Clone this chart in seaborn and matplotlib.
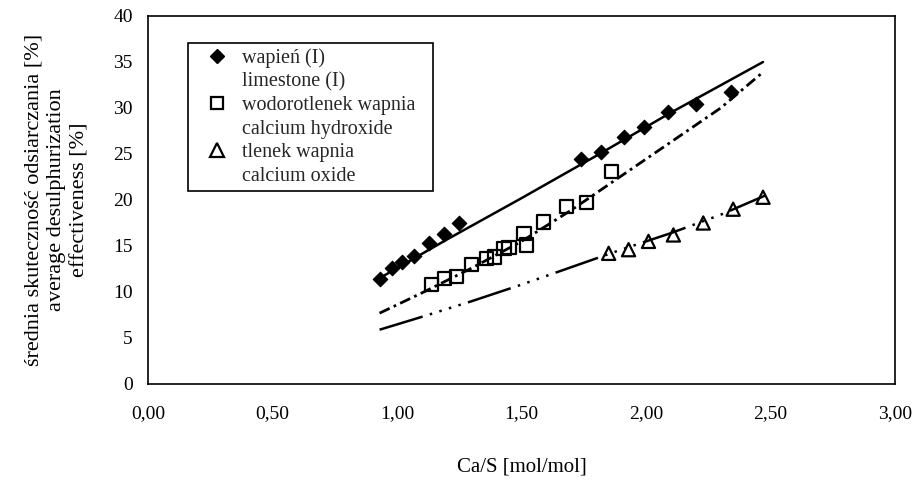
import numpy as np
import pandas as pd
import matplotlib
matplotlib.use("Agg")
import matplotlib.pyplot as plt
import seaborn as sns
from matplotlib.lines import Line2D

# ---- data ----
limestone_x = [0.93, 0.98, 1.02, 1.07, 1.13, 1.19, 1.25, 1.74, 1.82, 1.91, 1.99, 2.09, 2.20, 2.34]
limestone_y = [11.4, 12.6, 13.3, 13.9, 15.3, 16.3, 17.5, 24.5, 25.2, 26.9, 27.9, 29.6, 30.4, 31.7]
hydroxide_x = [1.14, 1.19, 1.24, 1.30, 1.36, 1.39, 1.43, 1.45, 1.51, 1.52, 1.59, 1.68, 1.76, 1.86]
hydroxide_y = [10.8, 11.5, 11.7, 13.0, 13.6, 13.8, 14.7, 14.8, 16.4, 15.1, 17.6, 19.3, 19.7, 23.1]
oxide_x = [1.85, 1.93, 2.01, 2.11, 2.23, 2.35, 2.47]
oxide_y = [14.2, 14.6, 15.5, 16.2, 17.5, 19.0, 20.3]

# trend curves
lime_fit_x = [0.93, 1.2, 1.5, 1.8, 2.1, 2.47]
lime_fit_y = [11.5, 15.7, 20.2, 24.8, 29.5, 35.0]
hydro_fit_x = [0.93, 1.1, 1.3, 1.5, 1.7, 1.9, 2.1, 2.3, 2.47]
hydro_fit_y = [7.7, 9.9, 12.6, 15.5, 18.9, 22.6, 26.3, 30.0, 33.9]
oxide_fit_x = [0.93, 1.1, 1.3, 1.5, 1.7, 1.9, 2.1, 2.3, 2.48]
oxide_fit_y = [5.9, 7.3, 9.0, 10.8, 12.7, 14.6, 16.4, 18.4, 20.5]

x_ticks = [0.0, 0.5, 1.0, 1.5, 2.0, 2.5, 3.0]
x_tick_labels = ["0,00", "0,50", "1,00", "1,50", "2,00", "2,50", "3,00"]
y_ticks = [0, 5, 10, 15, 20, 25, 30, 35, 40]

legend_lines = [("wapień (I)", "limestone (I)"),
                ("wodorotlenek wapnia", "calcium hydroxide"),
                ("tlenek wapnia", "calcium oxide")]

sns.set_theme(style="white")
plt.rcParams["font.family"] = ["Liberation Serif", "DejaVu Serif"]

fig = plt.figure(figsize=(9.17, 4.82), dpi=100)
ax = fig.add_axes([148 / 917, 1 - 384 / 482, (895 - 148) / 917, (384 - 16) / 482])

# trend lines
sns.lineplot(x=lime_fit_x, y=lime_fit_y, ax=ax, color="black", lw=1.8,
             estimator=None, sort=False)
sns.lineplot(x=hydro_fit_x, y=hydro_fit_y, ax=ax, color="black", lw=2.0,
             estimator=None, sort=False, linestyle=(0, (4, 1.6, 1, 1.6)))
sns.lineplot(x=oxide_fit_x, y=oxide_fit_y, ax=ax, color="black", lw=1.8,
             estimator=None, sort=False,
             linestyle=(0, (18, 3, 1, 3, 1, 3, 1, 3, 1, 3)))

# markers
sns.scatterplot(x=limestone_x, y=limestone_y, ax=ax, marker="D", s=55,
                color="black", edgecolor="black", linewidth=0.8, zorder=5)
sns.scatterplot(x=hydroxide_x, y=hydroxide_y, ax=ax, marker="s", s=90,
                facecolor="none", edgecolor="black", linewidth=1.6, zorder=5)
sns.scatterplot(x=oxide_x, y=oxide_y, ax=ax, marker="^", s=90,
                facecolor="none", edgecolor="black", linewidth=1.6, zorder=5)

ax.set_xlim(0, 3)
ax.set_ylim(0, 40)
ax.set_xticks(x_ticks)
ax.set_xticklabels(x_tick_labels)
ax.set_yticks(y_ticks)
ax.tick_params(axis="both", direction="inout", length=8, width=1.0,
               colors="black", labelsize=14, pad=7)
ax.tick_params(axis="x", pad=11)
for sp in ax.spines.values():
    sp.set_visible(True)
    sp.set_color("black")
    sp.set_linewidth(1.2)
ax.grid(False)

ax.set_xlabel("Ca/S [mol/mol]", fontsize=15, color="black")
ax.xaxis.set_label_coords(0.5, (384 - 467) / 368)
ax.xaxis.label.set_va("center")
ax.set_ylabel("średnia skuteczność odsiarczania [%]\naverage desulphurization\neffectiveness [%]",
              fontsize=16, color="black", linespacing=1.32, multialignment="center")
ax.yaxis.set_label_coords((57 - 148) / 747, 0.5)
ax.yaxis.label.set_va("center")

# legend: marker aligned with first line of each two-line label
mk = dict(color="black", linestyle="none")
handles = [
    Line2D([], [], marker="D", markersize=7, markerfacecolor="black", markeredgecolor="black", **mk),
    Line2D([], [], marker="none", **mk),
    Line2D([], [], marker="s", markersize=9, markerfacecolor="none", markeredgecolor="black", markeredgewidth=1.6, **mk),
    Line2D([], [], marker="none", **mk),
    Line2D([], [], marker="^", markersize=9.5, markerfacecolor="none", markeredgecolor="black", markeredgewidth=1.6, **mk),
    Line2D([], [], marker="none", **mk),
]
labels = [t for pair in legend_lines for t in pair]
lx0 = (188 - 148) / 747
ly1 = (384 - 43) / 368
lw_ = (433 - 188) / 747
leg = ax.legend(handles, labels, loc="upper left",
                bbox_to_anchor=(lx0, ly1 - 0.4, lw_, 0.4), mode="expand",
                fontsize=14.5, frameon=True, fancybox=False, framealpha=1,
                edgecolor="black", labelspacing=0.215, handlelength=2.3,
                handletextpad=0.12, borderpad=0.28, borderaxespad=0)
leg.get_frame().set_linewidth(1.2)

fig.savefig("out.png", dpi=100)
